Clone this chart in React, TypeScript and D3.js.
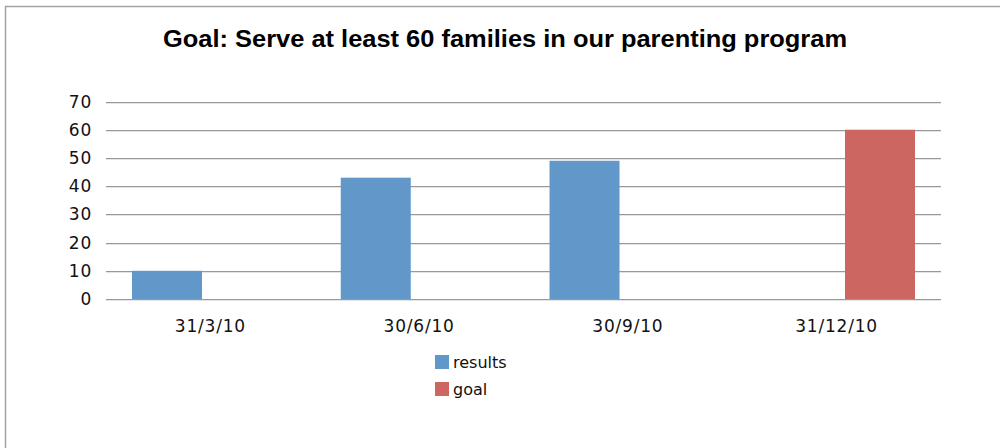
import React from "react";
import * as d3 from "d3";

const categories = ["31/3/10", "30/6/10", "30/9/10", "31/12/10"];
const seriesNames = ["results", "goal"];
const resultsValues: (number | null)[] = [10, 43, 49, null];
const goalValues: (number | null)[] = [null, null, null, 60];
const yTicks = [0, 10, 20, 30, 40, 50, 60, 70];
const title = "Goal: Serve at least 60 families in our parenting program";

const colors: Record<string, string> = { results: "#6197C9", goal: "#CB6661" };
const font = "'DejaVu Sans', Verdana, sans-serif";

export default function App() {
  const W = 1000, H = 448;
  const x0 = d3.scaleBand<string>().domain(categories).range([106, 941]).paddingInner(0).paddingOuter(0);
  const x1 = d3.scaleBand<string>().domain(seriesNames).range([0, x0.bandwidth()]).paddingInner(0.193).paddingOuter(0.3);
  const y = d3.scaleLinear().domain([0, 70]).range([299, 101.5]);
  const series: Record<string, (number | null)[]> = { results: resultsValues, goal: goalValues };

  return (
    <svg width={W} height={H} style={{ position: "absolute", left: 0, top: 0, background: "#fff" }}>
      <rect x={0} y={0} width={W} height={H} fill="#fff" />
      <line x1={5} x2={W} y1={6.5} y2={6.5} stroke="#a3a3a3" strokeWidth={1.5} />
      <line x1={5.5} x2={5.5} y1={6} y2={H} stroke="#a3a3a3" strokeWidth={1.5} />
      <text x={505} y={47} textAnchor="middle" fontFamily="'Liberation Sans', Arial, sans-serif" fontWeight={700}
        fontSize={24} textLength={684} lengthAdjust="spacingAndGlyphs" fill="#000">{title}</text>
      {yTicks.map((t) => {
        const yy = Math.round(y(t)) + 0.5;
        return (
          <g key={t}>
            <line x1={106} x2={941} y1={yy} y2={yy} stroke="#999" strokeWidth={1} />
            <line x1={106} x2={941} y1={yy + 1} y2={yy + 1} stroke="#e4e4e4" strokeWidth={1} />
            <text x={92} y={y(t)} dy="0.36em" textAnchor="end" fontFamily={font} fontSize={17} letterSpacing={0.8} fill="#111">{t}</text>
          </g>
        );
      })}
      {categories.map((c, i) => (
        <g key={c} transform={`translate(${x0(c)},0)`}>
          {seriesNames.map((s) => {
            const v = series[s][i];
            if (v == null) return null;
            return <rect key={s} x={x1(s)} y={y(v)} width={x1.bandwidth()} height={y(0) - y(v)} fill={colors[s]} />;
          })}
          <text x={x0.bandwidth() / 2} y={332} textAnchor="middle" fontFamily={font} fontSize={17} letterSpacing={0.8} fill="#111">{c}</text>
        </g>
      ))}
      {seriesNames.map((s, i) => (
        <g key={s} transform={`translate(435,${355 + i * 27})`}>
          <rect x={0} y={0} width={14} height={14} fill={colors[s]} />
          <text x={18} y={13} fontFamily={font} fontSize={16} fill="#111">{s}</text>
        </g>
      ))}
    </svg>
  );
}
